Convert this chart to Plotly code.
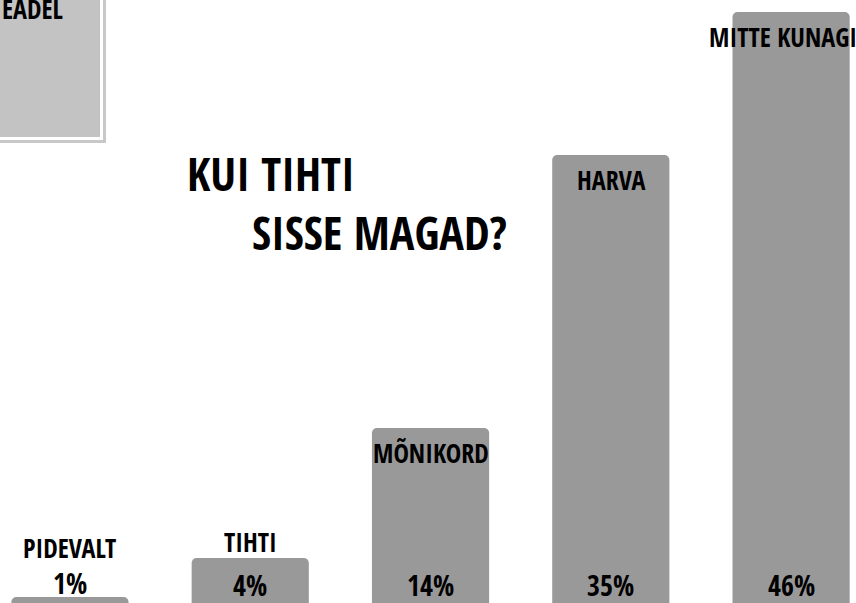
import plotly.graph_objects as go

categories = ["PIDEVALT", "TIHTI", "MÕNIKORD", "HARVA", "MITTE KUNAGI"]
percent = [1, 4, 14, 35, 46]
pct_labels = ["1%", "4%", "14%", "35%", "46%"]
title_lines = ["KUI TIHTI", "SISSE MAGAD?"]
box_text = "EADEL"

W, H = 856, 603
FONT = "Open Sans Condensed, Roboto Condensed, DejaVu Sans Condensed, sans-serif"
GRAY = "#999999"


def px(x):
    return x / W


def py(y):
    return 1 - y / H


def label_font(size):
    return dict(family=FONT, size=size, color="black", weight="bold")


fig = go.Figure()
fig.add_trace(go.Bar(
    x=list(range(len(categories))), y=percent, width=0.65,
    marker=dict(color=GRAY, cornerradius=5, line_width=0),
    hoverinfo="skip", showlegend=False,
))

# category names: inside the top of tall bars, above short ones
for i, (name, v) in enumerate(zip(categories, percent)):
    if v >= 10:
        shift = -25
    elif v >= 3:
        shift = 16
    else:
        shift = 49
    xs = -8 if i == len(categories) - 1 else 0
    fig.add_annotation(x=i, y=v, text=name, yanchor="middle", yshift=shift, xshift=xs,
                       showarrow=False, font=label_font(26))

# percentages at the foot of each bar (above the smallest one)
for i, (lab, v) in enumerate(zip(pct_labels, percent)):
    if v >= 3:
        fig.add_annotation(x=i, y=0.54, text=lab, yanchor="middle", yshift=18,
                           showarrow=False, font=label_font(28))
    else:
        fig.add_annotation(x=i, y=v, text=lab, yanchor="middle", yshift=14,
                           showarrow=False, font=label_font(28))

# title
fig.add_annotation(x=px(185), y=py(173), xref="paper", yref="paper", text=title_lines[0],
                   xanchor="left", yanchor="middle", showarrow=False, font=label_font(46))
fig.add_annotation(x=px(250), y=py(232), xref="paper", yref="paper", text=title_lines[1],
                   xanchor="left", yanchor="middle", showarrow=False, font=label_font(46))

# partly hidden box in the top-left corner
fig.add_shape(type="rect", xref="paper", yref="paper", x0=px(-20), y0=py(143), x1=px(106), y1=py(-20),
              fillcolor="#c8c8c8", line_width=0, layer="below")
fig.add_shape(type="rect", xref="paper", yref="paper", x0=px(-20), y0=py(140), x1=px(103), y1=py(-20),
              fillcolor="white", line_width=0, layer="below")
fig.add_shape(type="rect", xref="paper", yref="paper", x0=px(-20), y0=py(137), x1=px(100), y1=py(-20),
              fillcolor="#c3c3c3", line_width=0, layer="below")
fig.add_annotation(x=px(0), y=py(9), xref="paper", yref="paper", text=box_text,
                   xanchor="left", yanchor="middle", showarrow=False, font=label_font(26))

fig.update_layout(
    width=W, height=H, margin=dict(l=0, r=0, t=0, b=0),
    paper_bgcolor="white", plot_bgcolor="white",
    xaxis=dict(range=[-0.388, 4.36], visible=False, fixedrange=True),
    yaxis=dict(range=[0.54, 46.92], visible=False, fixedrange=True),
)

fig.write_html("out.html", config={"displayModeBar": False},
               post_script="document.body.style.margin='0';")
